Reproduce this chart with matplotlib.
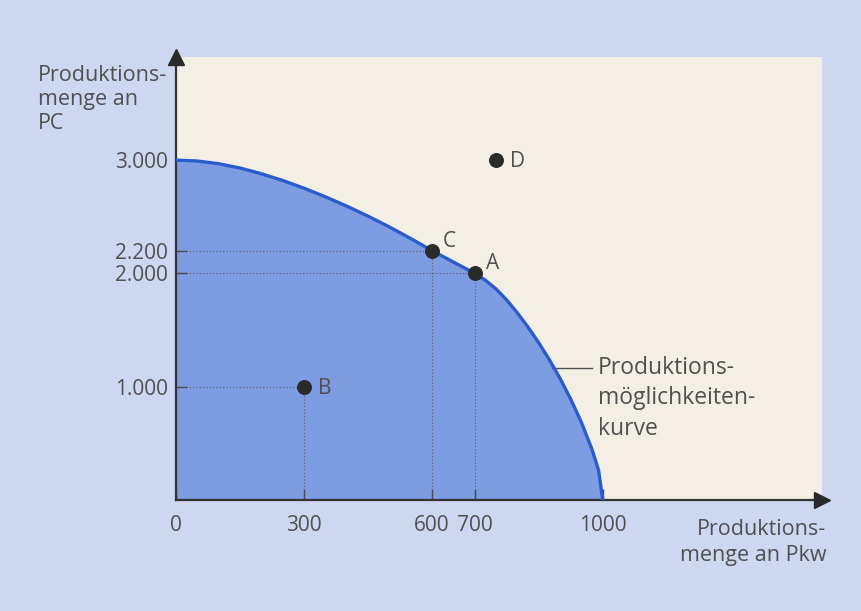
import matplotlib.pyplot as plt

plt.rcParams['font.family'] = ['Open Sans', 'DejaVu Sans']

# Production possibilities curve (PC vs. Pkw), read along the boundary
curve_x = [0, 50, 100, 150, 200, 250, 300, 350, 400, 450, 500, 550, 600, 650, 700,
           725, 750, 775, 800, 825, 850, 875, 900, 925, 950, 975, 990, 1000]
curve_y = [3000, 2992, 2968, 2930, 2880, 2820, 2752, 2676, 2594, 2505, 2410, 2308, 2200, 2100, 2000,
           1940, 1862, 1765, 1650, 1525, 1387, 1237, 1072, 889, 684, 444, 264, 0]

# Labelled production points
point_names = ['A', 'B', 'C', 'D']
point_x = [700, 300, 600, 750]
point_y = [2000, 1000, 2200, 3000]

x_ticks = [0, 300, 600, 700, 1000]
x_tick_labels = ['0', '300', '600', '700', '1000']
y_ticks = [1000, 2000, 2200, 3000]
y_tick_labels = ['1.000', '2.000', '2.200', '3.000']

bg_blue = '#cdd7ef'
panel = '#f3efe4'
fill_blue = '#7e9ce2'
line_blue = '#2a5ccc'
ink = '#505050'

fig = plt.figure(figsize=(8.61, 6.11), dpi=100, facecolor=bg_blue)
ax = fig.add_axes([0.2044, 0.1817, 0.750, 0.725])
ax.set_facecolor(panel)
ax.set_xlim(0, 1513)
ax.set_ylim(0, 3910)

ax.fill_between(curve_x, curve_y, 0, color=fill_blue, lw=0, zorder=1)
ax.plot(curve_x, curve_y, color=line_blue, lw=2.4, solid_joinstyle='round',
        solid_capstyle='round', zorder=3)

# dotted guides from points A, B, C to both axes
for px, py in zip(point_x[:3], point_y[:3]):
    ax.plot([px, px], [0, py], ls=(0, (1, 2)), color='#5a5a6a', lw=0.8, zorder=2)
    ax.plot([0, px], [py, py], ls=(0, (1, 2)), color='#5a5a6a', lw=0.8, zorder=2)

ax.scatter(point_x, point_y, s=95, color='#2a2a2a', zorder=4)
offsets = {'A': (8, 7), 'B': (10, -1), 'C': (8, 7), 'D': (10, -1)}
for name, px, py in zip(point_names, point_x, point_y):
    dx, dy = offsets[name]
    ax.annotate(name, (px, py), xytext=(dx, dy), textcoords='offset points',
                fontsize=15, color=ink, va='center', ha='left', zorder=5)

# curve label with leader line
ax.plot([880, 975], [1165, 1165], color=ink, lw=1.0, zorder=2)
ax.text(988, 1275, 'Produktions-\nmöglichkeiten-\nkurve', fontsize=16.5, color=ink,
        va='top', ha='left', linespacing=1.38)

# axes and arrow heads
for side in ['top', 'right']:
    ax.spines[side].set_visible(False)
for side in ['left', 'bottom']:
    ax.spines[side].set_color('#333333')
    ax.spines[side].set_linewidth(1.6)
ax.plot(0, 3910, marker='^', ms=11, color='#2a2a2a', clip_on=False, zorder=6)
ax.plot(1513, 0, marker='>', ms=11, color='#2a2a2a', clip_on=False, zorder=6)

ax.set_xticks(x_ticks)
ax.set_xticklabels(x_tick_labels)
ax.set_yticks(y_ticks)
ax.set_yticklabels(y_tick_labels)
ax.tick_params(axis='both', direction='in', length=8, width=1.0, color='#444444',
               labelsize=15, labelcolor=ink)
ax.tick_params(axis='x', pad=11)
ax.tick_params(axis='y', pad=6)

fig.text(38 / 861, 1 - 65 / 611, 'Produktions-\nmenge an\nPC', fontsize=15.5, color=ink,
         ha='left', va='top', linespacing=1.2)
fig.text(826 / 861, 1 - 519 / 611, 'Produktions-\nmenge an Pkw', fontsize=15.5, color=ink,
         ha='right', va='top', linespacing=1.3, multialignment='right')

fig.savefig('out.png', dpi=100, facecolor=bg_blue)
